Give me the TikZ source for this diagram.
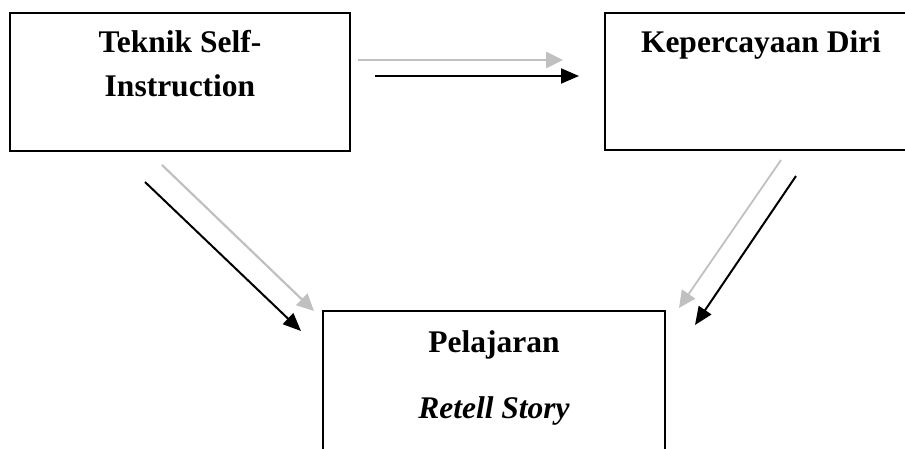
\documentclass[tikz,border=0pt]{standalone}
\usepackage{fontspec}
\setmainfont{Liberation Serif}
\usepackage{xcolor}
\usetikzlibrary{arrows.meta}
\definecolor{lightarrow}{RGB}{192,192,192}

\begin{document}
\begin{tikzpicture}[x=1pt,y=-1pt,
    box/.style={draw,line width=1.6pt,inner sep=0pt},
    title/.style={font=\fontsize{31.5}{44}\selectfont\bfseries,anchor=base,inner sep=0pt},
    grayarr/.style={draw=lightarrow,line width=2.6pt,-{Triangle[length=17pt,width=16pt]}},
    blackarr/.style={draw=black,line width=2pt,-{Triangle[length=18pt,width=15pt]}}]
    \useasboundingbox (0,0) rectangle (905,449);
    \clip (0,0) rectangle (905,449);
        \node[box,minimum width=340pt,minimum height=138pt] (teknik) at (180,82) {};
        \node[box,minimum width=340pt,minimum height=137pt] (percaya) at (775,81.5) {};
        \node[box,minimum width=342pt,minimum height=170pt] (pelajaran) at (494,396) {};
        \node[title] (teknik1) at (180,53) {Teknik Self-};
        \node[title] (teknik2) at (180,97) {Instruction};
        \node[title] (percaya1) at (761,53) {Kepercayaan Diri};
        \node[title] (pelajaran1) at (494,352) {Pelajaran};
        \node[title,font=\fontsize{31.5}{44}\selectfont\bfseries\itshape] (pelajaran2) at (494,418) {Retell Story};
        \coordinate (gh1) at (358,60);  \coordinate (gh2) at (563,60);
        \coordinate (bh1) at (375,76);  \coordinate (bh2) at (579,76);
        \coordinate (gl1) at (162,165); \coordinate (gl2) at (314,311);
        \coordinate (bl1) at (145,182); \coordinate (bl2) at (301,331);
        \coordinate (gr1) at (781,160); \coordinate (gr2) at (679,308);
        \coordinate (br1) at (796,176); \coordinate (br2) at (695,325);
        \draw[grayarr] (gh1)--(gh2);
        \draw[blackarr] (bh1)--(bh2);
        \draw[grayarr,line width=2.2pt] (gl1)--(gl2);
        \draw[blackarr] (bl1)--(bl2);
        \draw[grayarr,line width=1.8pt] (gr1)--(gr2);
        \draw[blackarr] (br1)--(br2);
\end{tikzpicture}
\end{document}
